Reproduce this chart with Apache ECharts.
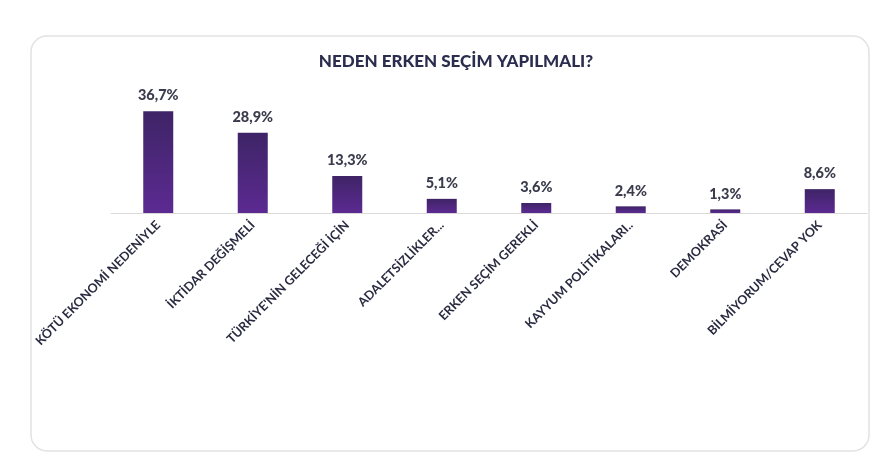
<!DOCTYPE html>
<html>
<head>
<meta charset="utf-8">
<script src="https://cdn.jsdelivr.net/npm/echarts@6/dist/echarts.min.js"></script>
<style>html,body{margin:0;padding:0;background:#fff;}#c{width:888px;height:472px;}</style>
</head>
<body>
<div id="c"></div>
<script>
const titleText = "NEDEN ERKEN SEÇİM YAPILMALI?";
const categories = ["KÖTÜ EKONOMİ NEDENİYLE","İKTİDAR DEĞİŞMELİ","TÜRKİYE'NİN GELECEĞİ İÇİN","ADALETSİZLİKLER...","ERKEN SEÇİM GEREKLİ","KAYYUM POLİTİKALARI..","DEMOKRASİ","BİLMİYORUM/CEVAP YOK"];
const values = [36.7, 28.9, 13.3, 5.1, 3.6, 2.4, 1.3, 8.6];

const chart = echarts.init(document.getElementById('c'), null, {renderer:'canvas'});
chart.setOption({
  backgroundColor: '#ffffff',
  animation: false,
  title: {
    text: titleText,
    left: 451, top: 48, textAlign: 'center',
    textStyle: {fontFamily: 'Lato', fontWeight: 900, fontSize: 17, color: '#2b2d4e'}
  },
  graphic: [{
    type: 'rect', z: -1,
    shape: {x: 31, y: 36, width: 838, height: 415, r: 16},
    style: {fill: '#ffffff', stroke: '#e2e2e2', lineWidth: 1.5}
  }],
  grid: {left: 111, right: 21, top: 102, bottom: 259, containLabel: false},
  xAxis: {
    type: 'category', data: categories,
    axisLine: {show: true, lineStyle: {color: '#d9d9d9', width: 1}},
    axisTick: {show: false},
    axisLabel: {interval: 0, rotate: 45, margin: 10, fontFamily: 'Lato', fontWeight: 'bold', fontSize: 12.5, color: '#2a2b40'}
  },
  yAxis: {type: 'value', min: 0, max: 40, show: false, splitLine: {show: false}},
  series: [{
    type: 'bar', data: values, barWidth: 30,
    itemStyle: {
      color: new echarts.graphic.LinearGradient(0, 0, 0, 1, [
        {offset: 0, color: '#3e2466'},
        {offset: 1, color: '#5c2a92'}
      ])
    },
    label: {
      show: true, position: 'top', distance: 8,
      formatter: p => p.value.toFixed(1).replace('.', ',') + '%',
      fontFamily: 'Lato', fontWeight: 900, fontSize: 14.5, color: '#3a3b4c'
    }
  }]
});
</script>
</body>
</html>
